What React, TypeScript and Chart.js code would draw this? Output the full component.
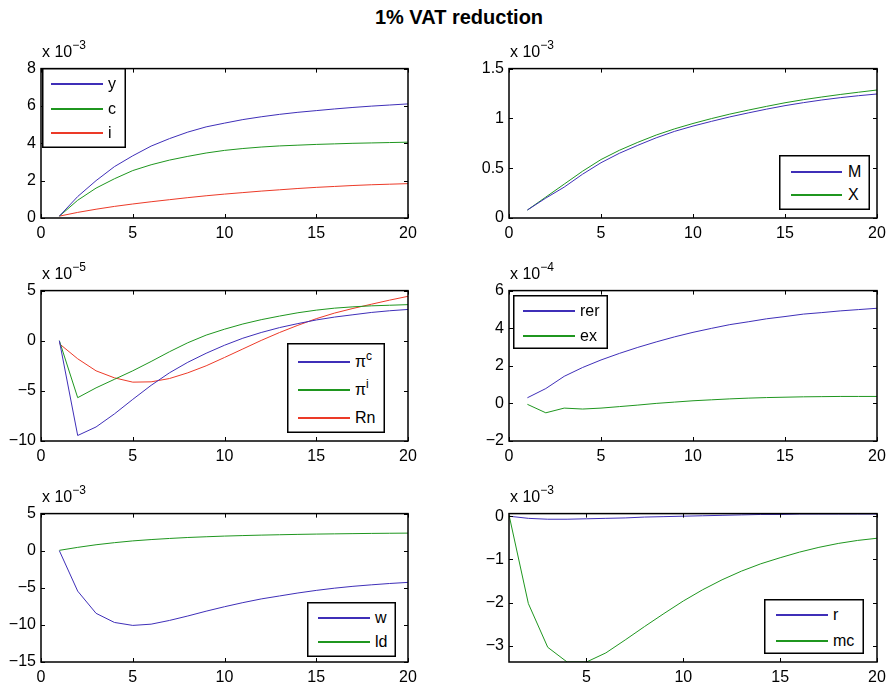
import React, { useEffect, useRef } from 'react';
import { Chart, registerables } from 'chart.js';

Chart.register(...registerables);

const FONT = "'Liberation Sans', Arial, Helvetica, sans-serif";

// ---------- data ----------
const periods = [1, 2, 3, 4, 5, 6, 7, 8, 9, 10, 11, 12, 13, 14, 15, 16, 17, 18, 19, 20];

const xTicksFull = [0, 5, 10, 15, 20];
const xTicksShort = [5, 10, 15, 20];

// panel 1 (x 10^-3)
const ySeries = [0.10, 1.15, 2.00, 2.75, 3.33, 3.85, 4.25, 4.60, 4.88, 5.08, 5.27, 5.42, 5.55, 5.66, 5.75, 5.84, 5.92, 5.99, 6.05, 6.11];
const cSeries = [0.10, 0.95, 1.60, 2.10, 2.54, 2.85, 3.10, 3.30, 3.48, 3.62, 3.72, 3.80, 3.86, 3.90, 3.94, 3.97, 4.00, 4.02, 4.04, 4.06];
const iSeries = [0.10, 0.30, 0.47, 0.62, 0.75, 0.87, 0.98, 1.09, 1.19, 1.28, 1.36, 1.44, 1.51, 1.58, 1.64, 1.69, 1.74, 1.78, 1.81, 1.84];
const yTicks1 = [0, 2, 4, 6, 8];

// panel 2 (x 10^-3)
const mSeries = [0.08, 0.20, 0.31, 0.44, 0.555, 0.65, 0.73, 0.805, 0.87, 0.923, 0.97, 1.015, 1.055, 1.093, 1.128, 1.158, 1.185, 1.208, 1.228, 1.245];
const xSeries = [0.08, 0.21, 0.34, 0.47, 0.587, 0.68, 0.76, 0.833, 0.895, 0.949, 0.998, 1.043, 1.083, 1.121, 1.157, 1.188, 1.215, 1.24, 1.263, 1.285];
const yTicks2 = [0, 0.5, 1, 1.5];

// panel 3 (x 10^-5)
const piCSeries = [0, -9.45, -8.6, -7.3, -5.85, -4.45, -3.2, -2.15, -1.25, -0.45, 0.25, 0.82, 1.31, 1.71, 2.07, 2.36, 2.59, 2.82, 2.99, 3.12];
const piISeries = [0, -5.68, -4.7, -3.85, -3.0, -2.07, -1.1, -0.2, 0.56, 1.15, 1.67, 2.1, 2.46, 2.79, 3.05, 3.25, 3.38, 3.48, 3.54, 3.6];
const rnSeries = [-0.3, -1.8, -3.0, -3.7, -4.13, -4.1, -3.77, -3.2, -2.5, -1.67, -0.82, 0.03, 0.82, 1.54, 2.2, 2.76, 3.22, 3.64, 4.05, 4.43];
const yTicks3 = [-10, -5, 0, 5];

// panel 4 (x 10^-4)
const rerSeries = [0.3, 0.79, 1.44, 1.91, 2.31, 2.66, 2.98, 3.27, 3.54, 3.78, 3.99, 4.19, 4.34, 4.5, 4.62, 4.75, 4.83, 4.92, 4.99, 5.06];
const exSeries = [-0.05, -0.5, -0.25, -0.3, -0.25, -0.17, -0.09, 0, 0.07, 0.14, 0.19, 0.24, 0.28, 0.31, 0.33, 0.35, 0.36, 0.37, 0.37, 0.37];
const yTicks4 = [-2, 0, 2, 4, 6];

// panel 5 (x 10^-3)
const wSeries = [0, -5.45, -8.44, -9.67, -10.07, -9.9, -9.4, -8.8, -8.15, -7.55, -7.0, -6.5, -6.1, -5.7, -5.35, -5.05, -4.8, -4.6, -4.42, -4.27];
const ldSeries = [0.05, 0.45, 0.8, 1.08, 1.32, 1.5, 1.65, 1.78, 1.88, 1.97, 2.04, 2.1, 2.15, 2.2, 2.24, 2.27, 2.3, 2.33, 2.35, 2.37];
const yTicks5 = [-15, -10, -5, 0, 5];

// panel 6 (x 10^-3)
const rSeries = [0, -0.05, -0.07, -0.07, -0.06, -0.05, -0.04, -0.02, -0.01, 0.0, 0.01, 0.02, 0.03, 0.04, 0.04, 0.05, 0.05, 0.05, 0.05, 0.05];
const mcSeries = [0.03, -2.02, -3.03, -3.37, -3.37, -3.16, -2.86, -2.55, -2.25, -1.96, -1.7, -1.47, -1.27, -1.1, -0.96, -0.83, -0.72, -0.63, -0.56, -0.51];
const yTicks6 = [-3, -2, -1, 0];

const TITLE = '1% VAT reduction';

// ---------- styles ----------
const BLUE = '#3f2fb8';
const GREEN = '#1f961f';
const RED = '#ec3a28';

type Series = { label: string; sup?: string; data: number[]; color: string };
type Rect = { l: number; t: number; r: number; b: number };
type LegendLayout = { l: number; t: number; w: number; h: number; x1: number; x2: number; tx: number; rows: number[] };
type PanelDef = {
  exp: string;
  xMin: number; xMax: number; xTicks: number[];
  yMin: number; yMax: number; yTicks: number[];
  series: Series[];
  rect: Rect;
  legend: LegendLayout;
};

const panels: PanelDef[] = [
  {
    exp: '\u22123', xMin: 0, xMax: 20, xTicks: xTicksFull, yMin: 0, yMax: 8, yTicks: yTicks1,
    series: [
      { label: 'y', data: ySeries, color: BLUE },
      { label: 'c', data: cSeries, color: GREEN },
      { label: 'i', data: iSeries, color: RED },
    ],
    rect: { l: 41, t: 66, r: 408, b: 218 },
    legend: { l: 42, t: 68, w: 84, h: 80, x1: 51, x2: 103, tx: 108, rows: [84, 109, 133] },
  },
  {
    exp: '\u22123', xMin: 0, xMax: 20, xTicks: xTicksFull, yMin: 0, yMax: 1.5, yTicks: yTicks2,
    series: [
      { label: 'M', data: mSeries, color: BLUE },
      { label: 'X', data: xSeries, color: GREEN },
    ],
    rect: { l: 509, t: 66, r: 877, b: 218 },
    legend: { l: 779, t: 155, w: 91, h: 55, x1: 791, x2: 842, tx: 848, rows: [172, 195] },
  },
  {
    exp: '\u22125', xMin: 0, xMax: 20, xTicks: xTicksFull, yMin: -10, yMax: 5, yTicks: yTicks3,
    series: [
      { label: '\u03c0', sup: 'c', data: piCSeries, color: BLUE },
      { label: '\u03c0', sup: 'i', data: piISeries, color: GREEN },
      { label: 'Rn', data: rnSeries, color: RED },
    ],
    rect: { l: 41, t: 288, r: 408, b: 441 },
    legend: { l: 287, t: 343, w: 98, h: 90, x1: 298, x2: 350, tx: 355, rows: [362, 390, 418] },
  },
  {
    exp: '\u22124', xMin: 0, xMax: 20, xTicks: xTicksFull, yMin: -2, yMax: 6, yTicks: yTicks4,
    series: [
      { label: 'rer', data: rerSeries, color: BLUE },
      { label: 'ex', data: exSeries, color: GREEN },
    ],
    rect: { l: 509, t: 288, r: 877, b: 441 },
    legend: { l: 513, t: 295, w: 95, h: 54, x1: 523, x2: 575, tx: 580, rows: [311, 336] },
  },
  {
    exp: '\u22123', xMin: 0, xMax: 20, xTicks: xTicksFull, yMin: -15, yMax: 5, yTicks: yTicks5,
    series: [
      { label: 'w', data: wSeries, color: BLUE },
      { label: 'ld', data: ldSeries, color: GREEN },
    ],
    rect: { l: 41, t: 511, r: 408, b: 662 },
    legend: { l: 307, t: 602, w: 89, h: 55, x1: 318, x2: 370, tx: 375, rows: [618, 642] },
  },
  {
    exp: '\u22123', xMin: 1, xMax: 20, xTicks: xTicksShort, yMin: -3.37, yMax: 0.06, yTicks: yTicks6,
    series: [
      { label: 'r', data: rSeries, color: BLUE },
      { label: 'mc', data: mcSeries, color: GREEN },
    ],
    rect: { l: 509, t: 511, r: 877, b: 662 },
    legend: { l: 764, t: 599, w: 100, h: 55, x1: 776, x2: 828, tx: 833, rows: [615, 641] },
  },
];

const fmt = (v: number | string) => {
  const n = Number(v);
  return n < 0 ? '\u2212' + String(Math.abs(n)) : String(n);
};

const boxPlugin = {
  id: 'matlabBox',
  afterDraw(chart: any) {
    const { ctx, chartArea } = chart;
    const { left, top, right, bottom } = chartArea;
    const xs = chart.scales.x;
    const ys = chart.scales.y;
    const TL = 4;
    ctx.save();
    ctx.strokeStyle = '#000';
    ctx.lineWidth = 1;
    ctx.beginPath();
    for (const t of xs.ticks) {
      const px = Math.round(xs.getPixelForValue(t.value)) + 0.5;
      ctx.moveTo(px, bottom);
      ctx.lineTo(px, bottom - TL);
      ctx.moveTo(px, top);
      ctx.lineTo(px, top + TL);
    }
    for (const t of ys.ticks) {
      const py = Math.round(ys.getPixelForValue(t.value)) + 0.5;
      ctx.moveTo(left, py);
      ctx.lineTo(left + TL, py);
      ctx.moveTo(right, py);
      ctx.lineTo(right - TL, py);
    }
    ctx.stroke();
    ctx.lineWidth = 1.5;
    ctx.strokeRect(left, top, right - left, bottom - top);
    ctx.restore();
  },
};

const PAD_L = 41;
const PAD_T = 12;
const PAD_R = 16;
const PAD_B = 26;

function Panel({ p }: { p: PanelDef }) {
  const ref = useRef<HTMLCanvasElement>(null);
  const w = p.rect.r - p.rect.l + PAD_L + PAD_R;
  const h = p.rect.b - p.rect.t + PAD_T + PAD_B;

  useEffect(() => {
    if (!ref.current) return;
    const tickFont = { family: FONT, size: 16 };
    const chart = new Chart(ref.current, {
      type: 'line',
      data: {
        datasets: p.series.map((s) => ({
          label: s.sup ? s.label + '^' + s.sup : s.label,
          data: periods.map((x, i) => ({ x, y: s.data[i] })),
          borderColor: s.color,
          backgroundColor: s.color,
          borderWidth: 1,
          pointRadius: 0,
          tension: 0,
          fill: false,
        })),
      },
      options: {
        animation: false,
        responsive: false,
        maintainAspectRatio: false,
        layout: { padding: { left: 0, top: PAD_T, right: PAD_R, bottom: 0 } },
        plugins: { legend: { display: false }, tooltip: { enabled: false }, title: { display: false } },
        scales: {
          x: {
            type: 'linear',
            min: p.xMin,
            max: p.xMax,
            afterBuildTicks: (s: any) => { s.ticks = p.xTicks.map((v) => ({ value: v })); },
            afterFit: (s: any) => { s.height = PAD_B; },
            grid: { display: false, drawTicks: false },
            border: { display: false },
            ticks: { autoSkip: false, maxRotation: 0, padding: 6, color: '#000', font: tickFont, callback: (v: any) => fmt(v) },
          },
          y: {
            type: 'linear',
            min: p.yMin,
            max: p.yMax,
            afterBuildTicks: (s: any) => { s.ticks = p.yTicks.map((v) => ({ value: v })); },
            afterFit: (s: any) => { s.width = PAD_L; },
            grid: { display: false, drawTicks: false },
            border: { display: false },
            ticks: { autoSkip: false, padding: 5, color: '#000', font: tickFont, callback: (v: any) => fmt(v) },
          },
        },
      } as any,
      plugins: [boxPlugin],
    });
    return () => chart.destroy();
  }, []);

  const lg = p.legend;
  return (
    <>
      <canvas
        ref={ref}
        width={w}
        height={h}
        style={{ position: 'absolute', left: p.rect.l - PAD_L, top: p.rect.t - PAD_T, width: w, height: h, display: 'block' }}
      />
      <div
        style={{
          position: 'absolute', left: p.rect.l + 1, top: p.rect.t - 22.5,
          font: `16px/16px ${FONT}`, color: '#000', whiteSpace: 'nowrap',
        }}
      >
        x 10<span style={{ fontSize: 12, position: 'relative', top: -8 }}>{p.exp}</span>
      </div>
      <div
        style={{
          position: 'absolute', left: lg.l, top: lg.t, width: lg.w, height: lg.h,
          boxSizing: 'border-box', background: '#fff',
          boxShadow: 'inset 0 0 0 1.5px #000',
        }}
      >
        {p.series.map((s, i) => (
          <React.Fragment key={i}>
            <div
              style={{
                position: 'absolute', left: lg.x1 - lg.l, top: lg.rows[i] - lg.t - 0.75,
                width: lg.x2 - lg.x1, height: 1.5, background: s.color,
              }}
            />
            <div
              style={{
                position: 'absolute', left: lg.tx - lg.l, top: lg.rows[i] - lg.t - 8.5,
                font: `16px/16px ${FONT}`, color: '#000', whiteSpace: 'nowrap',
              }}
            >
              {s.label}
              {s.sup ? <span style={{ fontSize: 12, position: 'relative', top: -7 }}>{s.sup}</span> : null}
            </div>
          </React.Fragment>
        ))}
      </div>
    </>
  );
}

export default function App() {
  return (
    <div style={{ position: 'absolute', left: 0, top: 0, width: 892, height: 689, overflow: 'hidden', background: '#fff' }}>
      <div
        style={{
          position: 'absolute', left: 259, top: 6.5, width: 400, textAlign: 'center',
          font: `bold 20px/20px ${FONT}`, color: '#000', whiteSpace: 'nowrap',
        }}
      >
        {TITLE}
      </div>
      {panels.map((p, i) => (
        <Panel key={i} p={p} />
      ))}
    </div>
  );
}
